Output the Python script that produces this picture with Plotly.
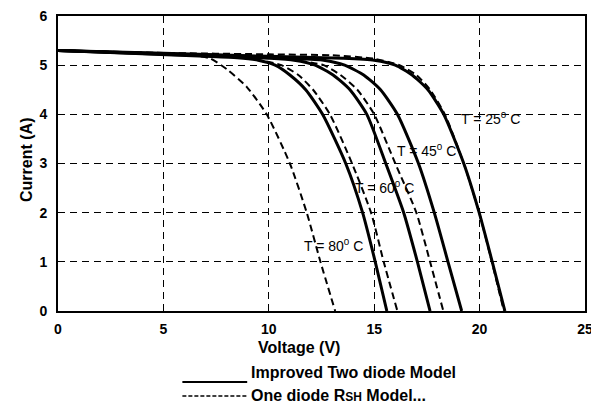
import plotly.graph_objects as go

# ---- data ----
# Improved Two diode Model (solid)
v_two_25 = [0, 5, 10, 13.5, 15.0, 16.0, 16.8, 17.55, 18.3, 19.25, 19.98, 20.6, 21.2]
i_two_25 = [5.30, 5.24, 5.18, 5.14, 5.10, 5.0, 4.8, 4.5, 4.0, 3.0, 2.0, 1.0, 0]
v_two_45 = [0, 5, 9, 11.0, 12.6, 13.6, 14.5, 15.3, 16.1, 17.1, 17.85, 18.5, 19.15]
i_two_45 = [5.30, 5.23, 5.18, 5.14, 5.10, 5.0, 4.8, 4.5, 4.0, 3.0, 2.0, 1.0, 0]
v_two_60 = [0, 5, 8, 10.0, 11.2, 12.2, 13.05, 13.85, 14.65, 15.55, 16.4, 17.05, 17.65]
i_two_60 = [5.30, 5.22, 5.18, 5.14, 5.10, 5.0, 4.8, 4.5, 4.0, 3.0, 2.0, 1.0, 0]
v_two_80 = [0, 4, 7, 8.5, 9.5, 10.3, 11.0, 11.75, 12.55, 13.65, 14.45, 15.05, 15.6]
i_two_80 = [5.30, 5.23, 5.18, 5.15, 5.10, 5.0, 4.8, 4.5, 4.0, 3.0, 2.0, 1.0, 0]

# One diode RSH Model (dashed)
v_one_25 = [0, 5, 10, 13.0, 15.0, 16.2, 17.0, 17.65, 18.35, 19.25, 19.98, 20.58, 21.15]
i_one_25 = [5.30, 5.25, 5.22, 5.20, 5.13, 5.0, 4.8, 4.5, 4.0, 3.0, 2.0, 1.0, 0]
v_one_45 = [0, 5, 9, 11.0, 12.6, 13.4, 14.2, 15.0, 16.0, 17.0, 17.65, 18.28]
i_one_45 = [5.30, 5.23, 5.20, 5.12, 5.0, 4.8, 4.5, 4.0, 3.0, 2.0, 1.0, 0]
v_one_60 = [0, 5, 8, 9.6, 10.6, 11.4, 12.1, 12.9, 13.95, 14.85, 15.45, 16.1]
i_one_60 = [5.30, 5.23, 5.18, 5.10, 5.0, 4.8, 4.5, 4.0, 3.0, 2.0, 1.0, 0]
v_one_80 = [0, 4, 6.5, 7.2, 8.0, 8.95, 9.9, 11.0, 11.8, 12.45, 13.15]
i_one_80 = [5.30, 5.24, 5.19, 5.14, 4.92, 4.56, 4.0, 3.0, 2.0, 1.0, 0]

temps = ["25", "45", "60", "80"]
label_v = [20.5, 17.5, 15.5, 13.05]
label_i = [3.92, 3.27, 2.52, 1.34]

x_ticks = [0, 5, 10, 15, 20, 25]
y_ticks = [0, 1, 2, 3, 4, 5, 6]

FONT = "Liberation Sans, Arial, sans-serif"

fig = go.Figure()

solid_sets = [(v_two_25, i_two_25), (v_two_45, i_two_45), (v_two_60, i_two_60), (v_two_80, i_two_80)]
dash_sets = [(v_one_25, i_one_25), (v_one_45, i_one_45), (v_one_60, i_one_60), (v_one_80, i_one_80)]

for t, (v, i) in zip(temps, dash_sets):
    fig.add_trace(go.Scatter(x=v, y=i, mode="lines", name=f"One diode RSH Model T={t}",
                             line=dict(color="black", width=2, dash="7px,4px", shape="spline", smoothing=0.6),
                             showlegend=False))
for t, (v, i) in zip(temps, solid_sets):
    fig.add_trace(go.Scatter(x=v, y=i, mode="lines", name=f"Improved Two diode Model T={t}",
                             line=dict(color="black", width=3, shape="spline", smoothing=0.6),
                             showlegend=False))

for t, lv, li in zip(temps, label_v, label_i):
    fig.add_annotation(x=lv, y=li, xref="x", yref="y", showarrow=False,
                       xanchor="center", yanchor="middle",
                       text=f"T = {t}<sup>0</sup> C",
                       font=dict(family=FONT, size=14, color="black"))

# axis titles
fig.add_annotation(x=0.457, y=-0.123, xref="paper", yref="paper", showarrow=False,
                   xanchor="center", yanchor="middle",
                   text="<b>Voltage (V)</b>", font=dict(family=FONT, size=16, color="black"))
fig.add_annotation(x=-0.0588, y=0.512, xref="paper", yref="paper", showarrow=False, textangle=-90,
                   xanchor="center", yanchor="middle",
                   text="<b>Current (A)</b>", font=dict(family=FONT, size=16, color="black"))

# legend drawn below the chart
fig.add_shape(type="line", xref="paper", yref="paper", x0=0.236, x1=0.359, y0=-0.2407, y1=-0.2407,
              line=dict(color="black", width=2))
fig.add_shape(type="line", xref="paper", yref="paper", x0=0.236, x1=0.359, y0=-0.288, y1=-0.288,
              line=dict(color="black", width=1.5, dash="4px,2px"))
fig.add_annotation(x=0.362, y=-0.210, xref="paper", yref="paper", showarrow=False,
                   xanchor="left", yanchor="middle",
                   text="<b>Improved Two diode Model</b>",
                   font=dict(family=FONT, size=16, color="black"))
fig.add_annotation(x=0.362, y=-0.285, xref="paper", yref="paper", showarrow=False,
                   xanchor="left", yanchor="middle",
                   text="<b>One diode R<span style='font-size:12px'>SH</span> Model...</b>",
                   font=dict(family=FONT, size=16, color="black"))

axis_common = dict(
    showline=True, linecolor="black", linewidth=2, mirror=True,
    showgrid=True, gridcolor="black", gridwidth=1.3, griddash="7px,5px",
    zeroline=False, ticks="", automargin=False, ticklabeloverflow="allow",
    tickfont=dict(family=FONT, size=14, color="black"),
)

fig.update_xaxes(range=[0, 25], tickvals=x_ticks, ticktext=[f"<b>{v}</b>" for v in x_ticks],
                 ticklabelstandoff=4, **axis_common)
fig.update_yaxes(range=[0, 6], tickvals=y_ticks, ticktext=[f"<b>{v}</b>" for v in y_ticks],
                 ticklabelstandoff=6, **axis_common)

# the page body adds an 8px offset, so the figure is sized/margined to compensate
fig.update_layout(
    width=591, height=397,
    margin=dict(l=50, r=14, t=8, b=94),
    plot_bgcolor="white", paper_bgcolor="white",
    font=dict(family=FONT, color="black"),
    showlegend=False,
)

fig.write_html("out.html")
